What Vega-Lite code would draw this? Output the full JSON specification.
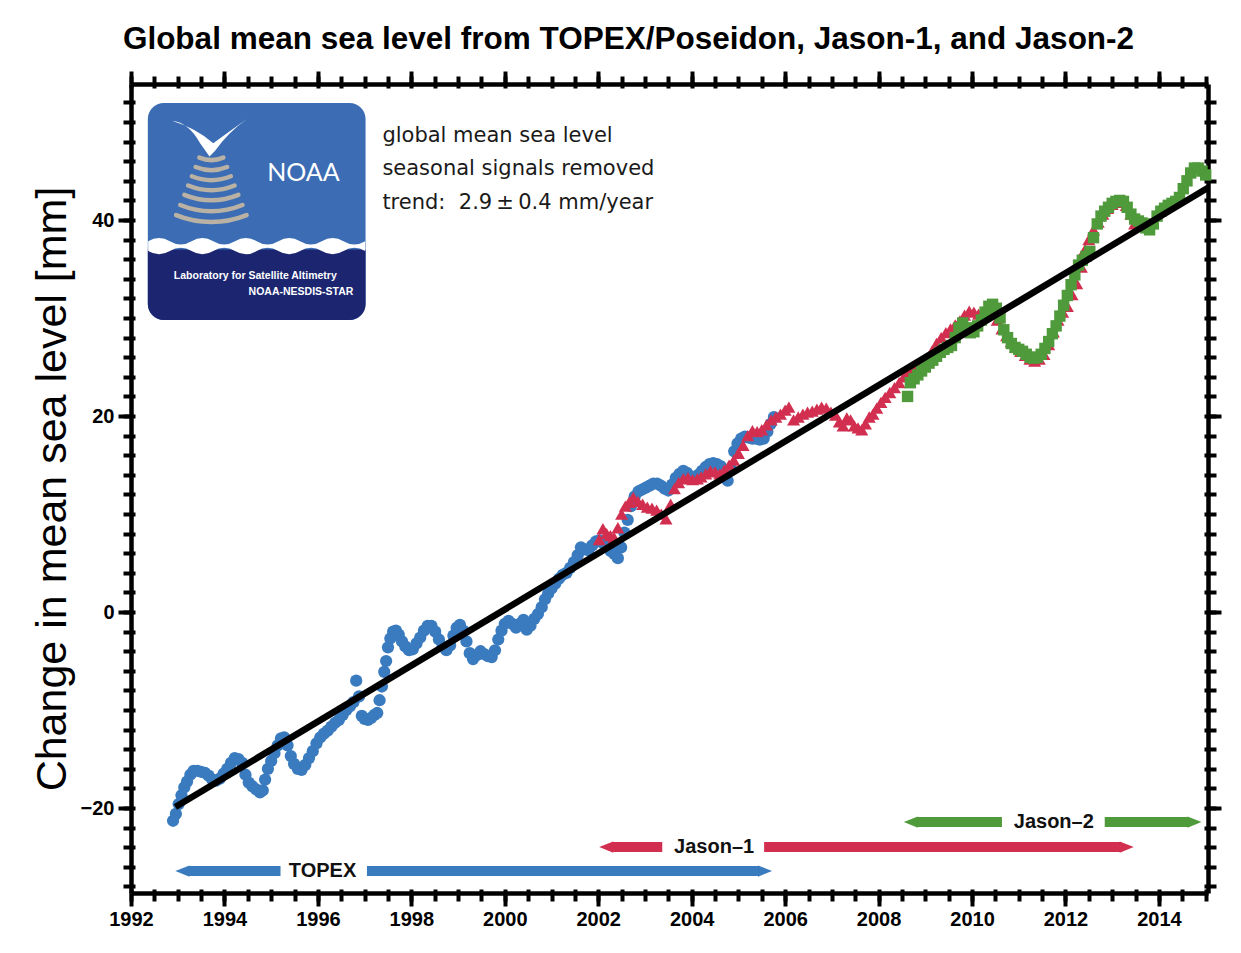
{
"$schema": "https://vega.github.io/schema/vega-lite/v6.json",
"width": 1077, "height": 809,
"autosize": {"type": "none"},
"padding": {"left": 131, "top": 84, "right": 33, "bottom": 60},
"background": "white",
"config": {"view": {"stroke": null}, "font": "Liberation Sans", "axis": {"grid": false, "domainColor": "black", "tickColor": "black", "labelColor": "black", "titleColor": "black", "labelFont": "Liberation Sans"}},
"title": {"text": "Global mean sea level from TOPEX/Poseidon, Jason-1, and Jason-2", "fontSize": 31.5, "font": "Liberation Sans", "fontWeight": "bold", "anchor": "middle", "dx": -41, "offset": 14, "color": "black"},
"resolve": {"axis": {"x": "independent", "y": "independent"}},
"datasets": {
"one": [{}],
"topex": [{"t":1992.90,"v":-21.3},{"t":1992.96,"v":-20.6},{"t":1993.02,"v":-19.6},{"t":1993.08,"v":-18.7},{"t":1993.14,"v":-17.9},{"t":1993.20,"v":-17.3},{"t":1993.27,"v":-16.6},{"t":1993.34,"v":-16.2},{"t":1993.42,"v":-16.2},{"t":1993.50,"v":-16.3},{"t":1993.58,"v":-16.4},{"t":1993.66,"v":-16.7},{"t":1993.74,"v":-17.1},{"t":1993.82,"v":-17.2},{"t":1993.90,"v":-17.0},{"t":1993.98,"v":-16.5},{"t":1994.06,"v":-16.0},{"t":1994.14,"v":-15.4},{"t":1994.22,"v":-14.9},{"t":1994.30,"v":-15.0},{"t":1994.38,"v":-15.4},{"t":1994.45,"v":-16.6},{"t":1994.52,"v":-17.4},{"t":1994.60,"v":-17.8},{"t":1994.68,"v":-18.1},{"t":1994.76,"v":-18.4},{"t":1994.82,"v":-18.2},{"t":1994.87,"v":-17.1},{"t":1994.93,"v":-16.0},{"t":1995.00,"v":-15.2},{"t":1995.07,"v":-14.4},{"t":1995.14,"v":-13.6},{"t":1995.21,"v":-12.9},{"t":1995.28,"v":-12.8},{"t":1995.35,"v":-13.6},{"t":1995.42,"v":-14.7},{"t":1995.49,"v":-15.5},{"t":1995.57,"v":-16.0},{"t":1995.65,"v":-16.1},{"t":1995.73,"v":-15.6},{"t":1995.81,"v":-14.9},{"t":1995.89,"v":-14.2},{"t":1995.97,"v":-13.4},{"t":1996.05,"v":-12.8},{"t":1996.13,"v":-12.4},{"t":1996.21,"v":-12.1},{"t":1996.29,"v":-11.7},{"t":1996.37,"v":-11.3},{"t":1996.45,"v":-11.0},{"t":1996.53,"v":-10.5},{"t":1996.61,"v":-10.0},{"t":1996.69,"v":-9.6},{"t":1996.76,"v":-9.2},{"t":1996.82,"v":-7.0},{"t":1996.88,"v":-8.6},{"t":1996.94,"v":-10.6},{"t":1997.00,"v":-10.9},{"t":1997.07,"v":-11.0},{"t":1997.14,"v":-10.8},{"t":1997.21,"v":-10.5},{"t":1997.27,"v":-10.3},{"t":1997.32,"v":-9.0},{"t":1997.37,"v":-7.6},{"t":1997.42,"v":-6.1},{"t":1997.46,"v":-5.0},{"t":1997.50,"v":-3.6},{"t":1997.55,"v":-2.7},{"t":1997.61,"v":-2.0},{"t":1997.67,"v":-1.9},{"t":1997.73,"v":-2.3},{"t":1997.80,"v":-3.0},{"t":1997.87,"v":-3.5},{"t":1997.95,"v":-3.9},{"t":1998.03,"v":-3.8},{"t":1998.11,"v":-3.2},{"t":1998.19,"v":-2.6},{"t":1998.27,"v":-1.9},{"t":1998.35,"v":-1.4},{"t":1998.43,"v":-1.4},{"t":1998.51,"v":-2.0},{"t":1998.59,"v":-2.8},{"t":1998.67,"v":-3.5},{"t":1998.75,"v":-3.9},{"t":1998.83,"v":-3.4},{"t":1998.90,"v":-2.4},{"t":1998.97,"v":-1.6},{"t":1999.04,"v":-1.3},{"t":1999.11,"v":-1.9},{"t":1999.18,"v":-3.0},{"t":1999.25,"v":-4.2},{"t":1999.32,"v":-4.8},{"t":1999.40,"v":-4.4},{"t":1999.48,"v":-4.0},{"t":1999.56,"v":-4.3},{"t":1999.64,"v":-4.5},{"t":1999.72,"v":-4.6},{"t":1999.79,"v":-3.9},{"t":1999.86,"v":-2.8},{"t":1999.93,"v":-1.9},{"t":2000.00,"v":-1.2},{"t":2000.08,"v":-0.9},{"t":2000.16,"v":-1.2},{"t":2000.24,"v":-1.6},{"t":2000.32,"v":-1.2},{"t":2000.40,"v":-0.8},{"t":2000.47,"v":-1.8},{"t":2000.55,"v":-1.4},{"t":2000.63,"v":-0.7},{"t":2000.71,"v":-0.2},{"t":2000.79,"v":0.5},{"t":2000.86,"v":1.3},{"t":2000.93,"v":1.9},{"t":2001.00,"v":2.4},{"t":2001.08,"v":2.9},{"t":2001.16,"v":3.4},{"t":2001.24,"v":3.8},{"t":2001.32,"v":4.0},{"t":2001.40,"v":4.5},{"t":2001.48,"v":5.1},{"t":2001.56,"v":5.8},{"t":2001.63,"v":6.6},{"t":2001.71,"v":6.4},{"t":2001.79,"v":6.3},{"t":2001.87,"v":6.8},{"t":2001.95,"v":7.2},{"t":2002.03,"v":7.3},{"t":2002.11,"v":7.0},{"t":2002.19,"v":6.6},{"t":2002.27,"v":6.2},{"t":2002.35,"v":5.9},{"t":2002.42,"v":5.5},{"t":2002.49,"v":6.6},{"t":2002.56,"v":8.1},{"t":2002.63,"v":9.4},{"t":2002.70,"v":10.8},{"t":2002.78,"v":11.8},{"t":2002.86,"v":12.3},{"t":2002.94,"v":12.5},{"t":2003.02,"v":12.7},{"t":2003.10,"v":12.9},{"t":2003.18,"v":13.1},{"t":2003.26,"v":13.1},{"t":2003.34,"v":12.9},{"t":2003.42,"v":12.6},{"t":2003.50,"v":12.4},{"t":2003.58,"v":13.0},{"t":2003.66,"v":13.7},{"t":2003.74,"v":14.1},{"t":2003.82,"v":14.4},{"t":2003.90,"v":14.2},{"t":2003.98,"v":13.8},{"t":2004.06,"v":13.7},{"t":2004.14,"v":14.0},{"t":2004.22,"v":14.4},{"t":2004.30,"v":14.8},{"t":2004.38,"v":15.1},{"t":2004.46,"v":15.2},{"t":2004.54,"v":15.1},{"t":2004.62,"v":14.9},{"t":2004.70,"v":14.2},{"t":2004.77,"v":13.4},{"t":2004.84,"v":14.6},{"t":2004.91,"v":16.4},{"t":2004.98,"v":17.2},{"t":2005.06,"v":17.7},{"t":2005.14,"v":17.9},{"t":2005.22,"v":17.8},{"t":2005.30,"v":17.7},{"t":2005.38,"v":17.7},{"t":2005.46,"v":17.6},{"t":2005.54,"v":17.7},{"t":2005.62,"v":18.4},{"t":2005.69,"v":19.2},{"t":2005.76,"v":19.9}],
"jason1": [{"t":2002.02,"v":7.4},{"t":2002.10,"v":8.5},{"t":2002.18,"v":8.0},{"t":2002.26,"v":7.8},{"t":2002.34,"v":7.6},{"t":2002.42,"v":8.6},{"t":2002.50,"v":10.0},{"t":2002.58,"v":10.8},{"t":2002.66,"v":11.2},{"t":2002.75,"v":11.7},{"t":2002.85,"v":11.3},{"t":2002.95,"v":11.0},{"t":2003.05,"v":10.7},{"t":2003.15,"v":10.6},{"t":2003.25,"v":10.4},{"t":2003.35,"v":10.0},{"t":2003.45,"v":9.5},{"t":2003.55,"v":11.0},{"t":2003.63,"v":12.6},{"t":2003.72,"v":13.2},{"t":2003.82,"v":13.6},{"t":2003.92,"v":13.7},{"t":2004.02,"v":13.5},{"t":2004.12,"v":13.6},{"t":2004.20,"v":13.8},{"t":2004.30,"v":14.1},{"t":2004.40,"v":14.4},{"t":2004.50,"v":14.3},{"t":2004.60,"v":14.1},{"t":2004.70,"v":14.5},{"t":2004.80,"v":15.0},{"t":2004.90,"v":15.5},{"t":2005.00,"v":16.2},{"t":2005.10,"v":17.0},{"t":2005.20,"v":18.0},{"t":2005.30,"v":18.5},{"t":2005.40,"v":18.4},{"t":2005.50,"v":18.6},{"t":2005.60,"v":19.1},{"t":2005.70,"v":19.6},{"t":2005.80,"v":19.9},{"t":2005.90,"v":20.2},{"t":2006.00,"v":20.6},{"t":2006.08,"v":20.9},{"t":2006.18,"v":19.6},{"t":2006.28,"v":19.9},{"t":2006.38,"v":20.2},{"t":2006.48,"v":20.4},{"t":2006.58,"v":20.5},{"t":2006.68,"v":20.7},{"t":2006.78,"v":20.9},{"t":2006.88,"v":20.8},{"t":2006.98,"v":20.4},{"t":2007.08,"v":20.1},{"t":2007.16,"v":19.4},{"t":2007.24,"v":19.0},{"t":2007.32,"v":19.8},{"t":2007.40,"v":19.6},{"t":2007.48,"v":19.0},{"t":2007.56,"v":18.8},{"t":2007.64,"v":18.6},{"t":2007.72,"v":19.2},{"t":2007.80,"v":19.9},{"t":2007.88,"v":20.2},{"t":2007.96,"v":20.8},{"t":2008.05,"v":21.4},{"t":2008.14,"v":21.9},{"t":2008.24,"v":22.4},{"t":2008.34,"v":22.9},{"t":2008.44,"v":23.4},{"t":2008.54,"v":24.0},{"t":2008.64,"v":24.4},{"t":2008.74,"v":24.7},{"t":2008.84,"v":25.2},{"t":2008.94,"v":25.6},{"t":2009.04,"v":25.9},{"t":2009.14,"v":26.6},{"t":2009.24,"v":27.4},{"t":2009.34,"v":28.0},{"t":2009.44,"v":28.5},{"t":2009.54,"v":28.9},{"t":2009.64,"v":29.3},{"t":2009.74,"v":29.7},{"t":2009.84,"v":30.3},{"t":2009.94,"v":30.7},{"t":2010.04,"v":30.6},{"t":2010.14,"v":30.4},{"t":2010.24,"v":30.2},{"t":2010.34,"v":30.5},{"t":2010.44,"v":30.6},{"t":2010.54,"v":29.8},{"t":2010.64,"v":28.9},{"t":2010.74,"v":28.2},{"t":2010.84,"v":27.6},{"t":2010.94,"v":27.0},{"t":2011.04,"v":26.6},{"t":2011.14,"v":26.2},{"t":2011.24,"v":25.8},{"t":2011.34,"v":25.6},{"t":2011.44,"v":25.8},{"t":2011.54,"v":26.3},{"t":2011.64,"v":27.3},{"t":2011.74,"v":28.6},{"t":2011.84,"v":29.8},{"t":2011.94,"v":30.6},{"t":2012.04,"v":31.2},{"t":2012.14,"v":32.4},{"t":2012.24,"v":33.5},{"t":2012.34,"v":35.2},{"t":2012.42,"v":37.0},{"t":2012.50,"v":38.0},{"t":2012.60,"v":39.0},{"t":2012.70,"v":39.8},{"t":2012.80,"v":40.6},{"t":2012.90,"v":41.2},{"t":2013.00,"v":41.6},{"t":2013.10,"v":41.9},{"t":2013.20,"v":41.8},{"t":2013.30,"v":41.5},{"t":2013.40,"v":40.6},{"t":2013.48,"v":39.6}],
"jason2": [{"t":2008.62,"v":22.0},{"t":2008.68,"v":23.4},{"t":2008.76,"v":23.8},{"t":2008.84,"v":24.2},{"t":2008.92,"v":24.6},{"t":2009.00,"v":25.0},{"t":2009.08,"v":25.4},{"t":2009.16,"v":25.7},{"t":2009.24,"v":26.1},{"t":2009.32,"v":26.5},{"t":2009.40,"v":26.8},{"t":2009.48,"v":27.0},{"t":2009.56,"v":27.2},{"t":2009.64,"v":28.0},{"t":2009.72,"v":29.0},{"t":2009.80,"v":29.5},{"t":2009.88,"v":29.0},{"t":2009.96,"v":28.5},{"t":2010.04,"v":28.6},{"t":2010.12,"v":29.2},{"t":2010.20,"v":29.8},{"t":2010.28,"v":30.6},{"t":2010.36,"v":31.2},{"t":2010.44,"v":31.4},{"t":2010.52,"v":31.0},{"t":2010.60,"v":30.0},{"t":2010.68,"v":28.8},{"t":2010.76,"v":28.0},{"t":2010.84,"v":27.4},{"t":2010.92,"v":27.0},{"t":2011.00,"v":26.8},{"t":2011.08,"v":26.6},{"t":2011.16,"v":26.3},{"t":2011.24,"v":26.0},{"t":2011.32,"v":25.9},{"t":2011.40,"v":26.0},{"t":2011.48,"v":26.3},{"t":2011.56,"v":26.9},{"t":2011.64,"v":27.6},{"t":2011.72,"v":28.4},{"t":2011.80,"v":29.2},{"t":2011.88,"v":30.2},{"t":2011.96,"v":31.3},{"t":2012.04,"v":32.3},{"t":2012.12,"v":33.4},{"t":2012.20,"v":34.4},{"t":2012.28,"v":35.4},{"t":2012.36,"v":35.9},{"t":2012.44,"v":36.3},{"t":2012.52,"v":36.8},{"t":2012.60,"v":38.2},{"t":2012.68,"v":39.6},{"t":2012.76,"v":40.4},{"t":2012.84,"v":40.9},{"t":2012.92,"v":41.3},{"t":2013.00,"v":41.7},{"t":2013.08,"v":41.9},{"t":2013.16,"v":42.0},{"t":2013.24,"v":41.9},{"t":2013.32,"v":41.3},{"t":2013.40,"v":40.6},{"t":2013.48,"v":40.1},{"t":2013.56,"v":39.9},{"t":2013.64,"v":39.7},{"t":2013.72,"v":39.2},{"t":2013.80,"v":39.0},{"t":2013.88,"v":39.6},{"t":2013.96,"v":40.4},{"t":2014.04,"v":40.9},{"t":2014.12,"v":41.2},{"t":2014.20,"v":41.5},{"t":2014.28,"v":41.7},{"t":2014.36,"v":41.9},{"t":2014.44,"v":42.3},{"t":2014.52,"v":43.2},{"t":2014.60,"v":44.0},{"t":2014.68,"v":44.8},{"t":2014.76,"v":45.3},{"t":2014.84,"v":45.3},{"t":2014.92,"v":45.0},{"t":2015.00,"v":44.6}],
"trend": [{"t":1992.95,"v":-19.9},{"t":2015.05,"v":43.3}],
"bars": [{"s":"TOPEX","a":1993.23,"b":1995.20,"y":-26.43},{"s":"TOPEX","a":1997.05,"b":2005.44,"y":-26.43},{"s":"Jason-1","a":2002.30,"b":2003.37,"y":-23.98},{"s":"Jason-1","a":2005.55,"b":2013.18,"y":-23.98},{"s":"Jason-2","a":2008.82,"b":2010.64,"y":-21.43},{"s":"Jason-2","a":2012.84,"b":2014.63,"y":-21.43}],
"heads": [{"s":"TOPEX","d":"L","t":1992.95,"y":-26.43},{"s":"TOPEX","d":"R","t":2005.72,"y":-26.43},{"s":"Jason-1","d":"L","t":2002.02,"y":-23.98},{"s":"Jason-1","d":"R","t":2013.46,"y":-23.98},{"s":"Jason-2","d":"L","t":2008.54,"y":-21.43},{"s":"Jason-2","d":"R","t":2014.91,"y":-21.43}],
"labels": [{"s":"TOPEX","label":"TOPEX","t":1996.10,"y":-26.43},{"s":"Jason-1","label":"Jason–1","t":2004.48,"y":-23.98},{"s":"Jason-2","label":"Jason–2","t":2011.75,"y":-21.43}]
},
"layer": [
{"data": {"name": "one"}, "mark": {"type": "rect", "fill": "#3c6db4", "cornerRadius": 16},
 "encoding": {"x": {"datum": 1992.36, "type": "quantitative", "scale": {"domain": [1992, 2015.05], "nice": false, "zero": false}, "axis": null}, "x2": {"datum": 1997.02},
  "y": {"datum": 51.94, "type": "quantitative", "scale": {"domain": [-28.67, 53.88], "nice": false, "zero": false}, "axis": null}, "y2": {"datum": 29.8}}},
{"data": {"name": "one"}, "mark": {"type": "rect", "fill": "#1b2570", "cornerRadiusBottomLeft": 16, "cornerRadiusBottomRight": 16},
 "encoding": {"x": {"datum": 1992.36, "type": "quantitative", "scale": {"domain": [1992, 2015.05], "nice": false, "zero": false}, "axis": null}, "x2": {"datum": 1997.02},
  "y": {"datum": 37.0, "type": "quantitative", "scale": {"domain": [-28.67, 53.88], "nice": false, "zero": false}, "axis": null}, "y2": {"datum": 29.8}}},
{"data": {"name": "one"}, "mark": {"type": "point", "filled": true, "fill": "white", "opacity": 1, "strokeWidth": 0, "size": 47089,
  "shape": "M-1,-0.03 Q-0.9,-0.09 -0.8,-0.03 T-0.6,-0.03 T-0.4,-0.03 T-0.2,-0.03 T0,-0.03 T0.2,-0.03 T0.4,-0.03 T0.6,-0.03 T0.8,-0.03 T1,-0.03 L1,0.06 Q0.9,0.0 0.8,0.06 T0.6,0.06 T0.4,0.06 T0.2,0.06 T0,0.06 T-0.2,0.06 T-0.4,0.06 T-0.6,0.06 T-0.8,0.06 T-1,0.06 Z"},
 "encoding": {"x": {"datum": 1994.69, "type": "quantitative", "scale": {"domain": [1992, 2015.05], "nice": false, "zero": false}, "axis": null},
  "y": {"datum": 37.5, "type": "quantitative", "scale": {"domain": [-28.67, 53.88], "nice": false, "zero": false}, "axis": null}}},
{"data": {"name": "one"}, "mark": {"type": "point", "filled": true, "fill": "white", "opacity": 1, "strokeWidth": 0, "size": 5625,
  "shape": "M-1,-0.45 Q-0.55,-0.4 -0.25,0.15 L0,0.5 L0.15,0.35 Q0.5,-0.15 1,-0.5 Q0.5,-0.15 0.1,0.15 Q-0.35,-0.25 -1,-0.45 Z"},
 "encoding": {"x": {"datum": 1993.68, "type": "quantitative", "scale": {"domain": [1992, 2015.05], "nice": false, "zero": false}, "axis": null},
  "y": {"datum": 48.4, "type": "quantitative", "scale": {"domain": [-28.67, 53.88], "nice": false, "zero": false}, "axis": null}}},
{"data": {"name": "one"}, "mark": {"type": "point", "filled": false, "stroke": "#b9b1a3", "opacity": 1, "strokeWidth": 4.5, "strokeCap": "round", "size": 10000,
  "shape": "M-0.24,0.153 A0.64,0.64 0 0,0 0.24,0.153 M-0.315,0.339 A0.84,0.84 0 0,0 0.315,0.339 M-0.39,0.524 A1.04,1.04 0 0,0 0.39,0.524 M-0.465,0.709 A1.24,1.24 0 0,0 0.465,0.709 M-0.54,0.895 A1.44,1.44 0 0,0 0.54,0.895 M-0.6225,1.099 A1.66,1.66 0 0,0 0.6225,1.099 M-0.705,1.303 A1.88,1.88 0 0,0 0.705,1.303"},
 "encoding": {"x": {"datum": 1993.72, "type": "quantitative", "scale": {"domain": [1992, 2015.05], "nice": false, "zero": false}, "axis": null},
  "y": {"datum": 47.14, "type": "quantitative", "scale": {"domain": [-28.67, 53.88], "nice": false, "zero": false}, "axis": null}}},
{"data": {"name": "one"}, "mark": {"type": "text", "text": "NOAA", "font": "Lato", "fontSize": 25, "color": "white", "align": "center", "baseline": "middle"},
 "encoding": {"x": {"datum": 1995.69, "type": "quantitative", "scale": {"domain": [1992, 2015.05], "nice": false, "zero": false}, "axis": null},
  "y": {"datum": 44.8, "type": "quantitative", "scale": {"domain": [-28.67, 53.88], "nice": false, "zero": false}, "axis": null}}},
{"data": {"name": "one"}, "mark": {"type": "text", "text": "Laboratory for Satellite Altimetry", "fontSize": 10.5, "fontWeight": "bold", "color": "white", "align": "center", "baseline": "middle"},
 "encoding": {"x": {"datum": 1994.66, "type": "quantitative", "scale": {"domain": [1992, 2015.05], "nice": false, "zero": false}, "axis": null},
  "y": {"datum": 34.3, "type": "quantitative", "scale": {"domain": [-28.67, 53.88], "nice": false, "zero": false}, "axis": null}}},
{"data": {"name": "one"}, "mark": {"type": "text", "text": "NOAA-NESDIS-STAR", "fontSize": 10.5, "fontWeight": "bold", "color": "white", "align": "right", "baseline": "middle"},
 "encoding": {"x": {"datum": 1996.76, "type": "quantitative", "scale": {"domain": [1992, 2015.05], "nice": false, "zero": false}, "axis": null},
  "y": {"datum": 32.65, "type": "quantitative", "scale": {"domain": [-28.67, 53.88], "nice": false, "zero": false}, "axis": null}}},
{"data": {"name": "one"}, "mark": {"type": "text", "text": ["global mean sea level", "seasonal signals removed", "trend:\u00a0\u00a02.9\u2009±\u20090.4 mm/year"], "font": "DejaVu Sans", "fontSize": 21, "lineHeight": 33.5, "color": "#1a1a1a", "align": "left", "baseline": "top"},
 "encoding": {"x": {"datum": 1997.38, "type": "quantitative", "scale": {"domain": [1992, 2015.05], "nice": false, "zero": false}, "axis": null},
  "y": {"datum": 49.7, "type": "quantitative", "scale": {"domain": [-28.67, 53.88], "nice": false, "zero": false}, "axis": null}}},
{"data": {"name": "topex"}, "mark": {"type": "point", "shape": "circle", "filled": true, "color": "#3a7bbf", "opacity": 1, "size": 150},
 "encoding": {"x": {"field": "t", "type": "quantitative", "scale": {"domain": [1992, 2015.05], "nice": false, "zero": false},
   "axis": {"orient": "bottom", "values": [1992,1994,1996,1998,2000,2002,2004,2006,2008,2010,2012,2014], "format": "d", "tickSize": 13, "tickWidth": 4, "domainWidth": 4.5, "labelFontSize": 20, "labelFontWeight": "bold", "labelPadding": 3, "labelFlush": false, "labelOverlap": false, "title": null, "grid": false}},
  "y": {"field": "v", "type": "quantitative", "scale": {"domain": [-28.67, 53.88], "nice": false, "zero": false},
   "axis": {"orient": "left", "values": [-20,0,20,40], "tickSize": 13, "tickWidth": 4, "domainWidth": 4.5, "labelFontSize": 20, "labelFontWeight": "bold", "labelPadding": 4, "labelFlush": false, "labelOverlap": false, "title": "Change in mean sea level [mm]", "titleFontSize": 43, "titleFontWeight": "normal", "titleFont": "Liberation Sans", "titlePadding": 6, "grid": false}}}},
{"data": {"name": "jason1"}, "mark": {"type": "point", "shape": "triangle-up", "filled": true, "color": "#d22f50", "opacity": 1, "size": 170},
 "encoding": {"x": {"field": "t", "type": "quantitative", "scale": {"domain": [1992, 2015.05], "nice": false, "zero": false},
   "axis": {"orient": "bottom", "values": [1992,1992.5,1993,1993.5,1994,1994.5,1995,1995.5,1996,1996.5,1997,1997.5,1998,1998.5,1999,1999.5,2000,2000.5,2001,2001.5,2002,2002.5,2003,2003.5,2004,2004.5,2005,2005.5,2006,2006.5,2007,2007.5,2008,2008.5,2009,2009.5,2010,2010.5,2011,2011.5,2012,2012.5,2013,2013.5,2014,2014.5,2015], "tickSize": 8, "tickWidth": 4, "labels": false, "domain": false, "title": null, "grid": false}},
  "y": {"field": "v", "type": "quantitative", "scale": {"domain": [-28.67, 53.88], "nice": false, "zero": false},
   "axis": {"orient": "left", "values": [-28,-26,-24,-22,-20,-18,-16,-14,-12,-10,-8,-6,-4,-2,0,2,4,6,8,10,12,14,16,18,20,22,24,26,28,30,32,34,36,38,40,42,44,46,48,50,52], "tickSize": 8, "tickWidth": 4, "labels": false, "domain": false, "title": null, "grid": false}}}},
{"data": {"name": "jason2"}, "mark": {"type": "point", "shape": "square", "filled": true, "color": "#4f9a3b", "opacity": 1, "size": 130},
 "encoding": {"x": {"field": "t", "type": "quantitative", "scale": {"domain": [1992, 2015.05], "nice": false, "zero": false},
   "axis": {"orient": "top", "values": [1992,1994,1996,1998,2000,2002,2004,2006,2008,2010,2012,2014], "tickSize": 13, "tickWidth": 4, "domainWidth": 4.5, "labels": false, "title": null, "grid": false}},
  "y": {"field": "v", "type": "quantitative", "scale": {"domain": [-28.67, 53.88], "nice": false, "zero": false},
   "axis": {"orient": "right", "values": [-20,0,20,40], "tickSize": 13, "tickWidth": 4, "domainWidth": 4.5, "labels": false, "title": null, "grid": false}}}},
{"data": {"name": "trend"}, "mark": {"type": "line", "color": "black", "strokeWidth": 6.5},
 "encoding": {"x": {"field": "t", "type": "quantitative", "scale": {"domain": [1992, 2015.05], "nice": false, "zero": false},
   "axis": {"orient": "top", "values": [1992,1992.5,1993,1993.5,1994,1994.5,1995,1995.5,1996,1996.5,1997,1997.5,1998,1998.5,1999,1999.5,2000,2000.5,2001,2001.5,2002,2002.5,2003,2003.5,2004,2004.5,2005,2005.5,2006,2006.5,2007,2007.5,2008,2008.5,2009,2009.5,2010,2010.5,2011,2011.5,2012,2012.5,2013,2013.5,2014,2014.5,2015], "tickSize": 8, "tickWidth": 4, "labels": false, "domain": false, "title": null, "grid": false}},
  "y": {"field": "v", "type": "quantitative", "scale": {"domain": [-28.67, 53.88], "nice": false, "zero": false},
   "axis": {"orient": "right", "values": [-28,-26,-24,-22,-20,-18,-16,-14,-12,-10,-8,-6,-4,-2,0,2,4,6,8,10,12,14,16,18,20,22,24,26,28,30,32,34,36,38,40,42,44,46,48,50,52], "tickSize": 8, "tickWidth": 4, "labels": false, "domain": false, "title": null, "grid": false}}}},
{"data": {"name": "bars"}, "mark": {"type": "rule", "strokeWidth": 10},
 "encoding": {"x": {"field": "a", "type": "quantitative", "scale": {"domain": [1992, 2015.05], "nice": false, "zero": false},
   "axis": {"orient": "bottom", "values": [1992,1992.5,1993,1993.5,1994,1994.5,1995,1995.5,1996,1996.5,1997,1997.5,1998,1998.5,1999,1999.5,2000,2000.5,2001,2001.5,2002,2002.5,2003,2003.5,2004,2004.5,2005,2005.5,2006,2006.5,2007,2007.5,2008,2008.5,2009,2009.5,2010,2010.5,2011,2011.5,2012,2012.5,2013,2013.5,2014,2014.5,2015], "tickSize": -4, "tickWidth": 4, "labels": false, "domain": false, "title": null, "grid": false}},
  "x2": {"field": "b"},
  "y": {"field": "y", "type": "quantitative", "scale": {"domain": [-28.67, 53.88], "nice": false, "zero": false},
   "axis": {"orient": "left", "values": [-28,-26,-24,-22,-20,-18,-16,-14,-12,-10,-8,-6,-4,-2,0,2,4,6,8,10,12,14,16,18,20,22,24,26,28,30,32,34,36,38,40,42,44,46,48,50,52], "tickSize": -4, "tickWidth": 4, "labels": false, "domain": false, "title": null, "grid": false}},
  "color": {"field": "s", "type": "nominal", "scale": {"domain": ["TOPEX", "Jason-1", "Jason-2"], "range": ["#3a7bbf", "#d22f50", "#4f9a3b"]}, "legend": null}}},
{"data": {"name": "heads"}, "transform": [{"filter": "datum.d == 'L'"}], "mark": {"type": "point", "filled": true, "opacity": 1, "size": 196, "shape": "M0,0 L2,-0.8 L2,0.8 Z"},
 "encoding": {"x": {"field": "t", "type": "quantitative", "scale": {"domain": [1992, 2015.05], "nice": false, "zero": false},
   "axis": {"orient": "top", "values": [1992,1992.5,1993,1993.5,1994,1994.5,1995,1995.5,1996,1996.5,1997,1997.5,1998,1998.5,1999,1999.5,2000,2000.5,2001,2001.5,2002,2002.5,2003,2003.5,2004,2004.5,2005,2005.5,2006,2006.5,2007,2007.5,2008,2008.5,2009,2009.5,2010,2010.5,2011,2011.5,2012,2012.5,2013,2013.5,2014,2014.5,2015], "tickSize": -4, "tickWidth": 4, "labels": false, "domain": false, "title": null, "grid": false}},
  "y": {"field": "y", "type": "quantitative", "scale": {"domain": [-28.67, 53.88], "nice": false, "zero": false},
   "axis": {"orient": "right", "values": [-28,-26,-24,-22,-20,-18,-16,-14,-12,-10,-8,-6,-4,-2,0,2,4,6,8,10,12,14,16,18,20,22,24,26,28,30,32,34,36,38,40,42,44,46,48,50,52], "tickSize": -4, "tickWidth": 4, "labels": false, "domain": false, "title": null, "grid": false}},
  "color": {"field": "s", "type": "nominal", "scale": {"domain": ["TOPEX", "Jason-1", "Jason-2"], "range": ["#3a7bbf", "#d22f50", "#4f9a3b"]}, "legend": null}}},
{"data": {"name": "heads"}, "transform": [{"filter": "datum.d == 'R'"}], "mark": {"type": "point", "filled": true, "opacity": 1, "size": 196, "shape": "M0,0 L-2,-0.8 L-2,0.8 Z"},
 "encoding": {"x": {"field": "t", "type": "quantitative", "scale": {"domain": [1992, 2015.05], "nice": false, "zero": false}, "axis": null},
  "y": {"field": "y", "type": "quantitative", "scale": {"domain": [-28.67, 53.88], "nice": false, "zero": false}, "axis": null},
  "color": {"field": "s", "type": "nominal", "scale": {"domain": ["TOPEX", "Jason-1", "Jason-2"], "range": ["#3a7bbf", "#d22f50", "#4f9a3b"]}, "legend": null}}},
{"data": {"name": "labels"}, "mark": {"type": "text", "fontSize": 20, "fontWeight": "bold", "color": "#111111", "align": "center", "baseline": "middle"},
 "encoding": {"x": {"field": "t", "type": "quantitative", "scale": {"domain": [1992, 2015.05], "nice": false, "zero": false}, "axis": null},
  "y": {"field": "y", "type": "quantitative", "scale": {"domain": [-28.67, 53.88], "nice": false, "zero": false}, "axis": null},
  "text": {"field": "label"}}}
]
}
